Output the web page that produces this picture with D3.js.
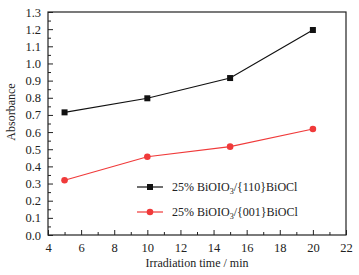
<!DOCTYPE html>
<html>
<head>
<meta charset="utf-8">
<script src="https://cdn.jsdelivr.net/npm/d3@7"></script>
<style>
  html, body { margin: 0; padding: 0; background: #fff; }
  svg { display: block; }
  text { font-family: "Liberation Serif", "DejaVu Serif", serif; fill: #222; }
</style>
</head>
<body>
<div id="chart"></div>
<script>
// Absorbance vs irradiation time
const times = [5, 10, 15, 20];
const abs110 = [0.715, 0.797, 0.915, 1.195];
const abs001 = [0.319, 0.456, 0.515, 0.618];
const xTicks = [4, 6, 8, 10, 12, 14, 16, 18, 20, 22];
const yTicks = [0, 0.1, 0.2, 0.3, 0.4, 0.5, 0.6, 0.7, 0.8, 0.9, 1.0, 1.1, 1.2, 1.3];

const width = 359, height = 275;
const margin = { top: 12, right: 13, bottom: 40, left: 48 };

const svg = d3.select('#chart').append('svg')
  .attr('width', width)
  .attr('height', height);

const x = d3.scaleLinear().domain([4, 22]).range([margin.left, width - margin.right]);
const y = d3.scaleLinear().domain([0, 1.3]).range([height - margin.bottom, margin.top]);

// inward ticks, minor ticks between majors
const xAxis = d3.axisBottom(x).tickValues(xTicks).tickSizeInner(-5).tickSizeOuter(0).tickPadding(8);
const xMinor = d3.axisBottom(x).tickValues(d3.range(5, 22, 2)).tickSizeInner(-3).tickSizeOuter(0).tickFormat('');
const yAxis = d3.axisLeft(y).tickValues(yTicks).tickSizeInner(-5).tickSizeOuter(0).tickPadding(7)
  .tickFormat(d3.format('.1f'));
const yMinor = d3.axisLeft(y).tickValues(d3.range(0.05, 1.3, 0.1)).tickSizeInner(-3).tickSizeOuter(0).tickFormat('');

function styleAxis(g) {
  g.select('.domain').remove();
  g.selectAll('line').attr('stroke', '#222');
  g.selectAll('text').style('font-size', '12.5px').style('font-family', '"Liberation Serif", serif').attr('fill', '#222');
}

svg.append('g').attr('transform', `translate(0,${y(0)})`).call(xAxis).call(styleAxis);
svg.append('g').attr('transform', `translate(0,${y(0)})`).call(xMinor).call(styleAxis);
svg.append('g').attr('transform', `translate(${x(4)},0)`).call(yAxis).call(styleAxis);
svg.append('g').attr('transform', `translate(${x(4)},0)`).call(yMinor).call(styleAxis);

// frame
svg.append('rect')
  .attr('x', x(4)).attr('y', y(1.3))
  .attr('width', x(22) - x(4)).attr('height', y(0) - y(1.3))
  .attr('fill', 'none').attr('stroke', '#222').attr('stroke-width', 1.2);

const line = d3.line().x(d => x(d[0])).y(d => y(d[1]));
const s110 = times.map((t, i) => [t, abs110[i]]);
const s001 = times.map((t, i) => [t, abs001[i]]);

svg.append('path').datum(s110).attr('d', line).attr('fill', 'none').attr('stroke', '#111').attr('stroke-width', 1.2);
svg.append('path').datum(s001).attr('d', line).attr('fill', 'none').attr('stroke', '#f03a3a').attr('stroke-width', 1.2);

svg.selectAll('.sq').data(s110).join('rect')
  .attr('x', d => x(d[0]) - 3).attr('y', d => y(d[1]) - 3)
  .attr('width', 6).attr('height', 6).attr('fill', '#111');
svg.selectAll('.ci').data(s001).join('circle')
  .attr('cx', d => x(d[0])).attr('cy', d => y(d[1]))
  .attr('r', 3.3).attr('fill', '#f03a3a');

// legend
const leg = svg.append('g').attr('transform', 'translate(137,187)');
leg.append('line').attr('x1', 0).attr('x2', 26).attr('stroke', '#111').attr('stroke-width', 1.2);
leg.append('rect').attr('x', 10).attr('y', -3).attr('width', 6).attr('height', 6).attr('fill', '#111');
leg.append('line').attr('x1', 0).attr('x2', 26).attr('y1', 25).attr('y2', 25).attr('stroke', '#f03a3a').attr('stroke-width', 1.2);
leg.append('circle').attr('cx', 13).attr('cy', 25).attr('r', 3.3).attr('fill', '#f03a3a');

function legendText(yy, facet) {
  const t = leg.append('text').attr('x', 35).attr('y', yy + 4).style('font-size', '12px');
  t.append('tspan').text('25% BiOIO');
  t.append('tspan').attr('dy', 3).style('font-size', '8px').text('3');
  t.append('tspan').attr('dy', -3).text('/' + facet + 'BiOCl');
}
legendText(0, '{110}');
legendText(25, '{001}');

// axis titles
svg.append('text')
  .attr('x', (x(4) + x(22)) / 2).attr('y', 267)
  .attr('text-anchor', 'middle').style('font-size', '12px')
  .text('Irradiation time / min');
svg.append('text')
  .attr('transform', 'translate(15,112) rotate(-90)')
  .attr('text-anchor', 'middle').style('font-size', '12px')
  .text('Absorbance');
</script>
</body>
</html>
